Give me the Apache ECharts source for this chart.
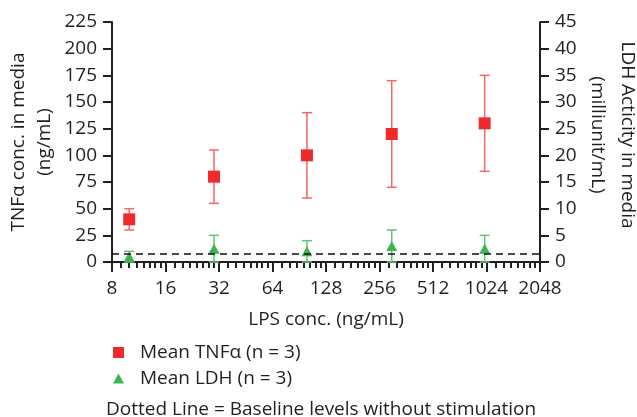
<!DOCTYPE html>
<html><head><meta charset="utf-8">
<script src="https://cdn.jsdelivr.net/npm/echarts@6/dist/echarts.min.js"></script>
<style>html,body{margin:0;padding:0;background:#fff}#c{width:637px;height:417px}</style>
</head><body><div id="c"></div>
<script>
// ---- data ----
const lpsConc = [10, 30, 100, 300, 1000];          // ng/mL
const tnfMean = [40, 80, 100, 120, 130];           // ng/mL (left axis)
const tnfSD   = [10, 25, 40, 50, 45];
const ldhMean = [1, 2.5, 2, 3, 2.5];               // milliunit/mL (right axis)
const ldhSD   = [1, 2.5, 2, 3, 2.5];
const baselineTNF = 8;                              // dotted baseline (left axis units)
const xMajorTicks = [8, 16, 32, 64, 128, 256, 512, 1024, 2048];

const xMinorTicks = [];
for (let i = 0; i < xMajorTicks.length - 1; i++) {
  for (let k = 1; k < 8; k++) xMinorTicks.push(xMajorTicks[i] * (1 + k / 8));
}

const FONT = 'Open Sans';
const TXT = '#231f20';
const AX = '#231f20';
const RED = '#ee2a2a', RED_ERR = '#f26666';
const GREEN = '#3cb454', GREEN_ERR = '#62c275';

const tnfPts = lpsConc.map((x, i) => [x, tnfMean[i]]);
const ldhPts = lpsConc.map((x, i) => [x, ldhMean[i]]);
const tnfErr = lpsConc.map((x, i) => [x, tnfMean[i] - tnfSD[i], tnfMean[i] + tnfSD[i]]);
const ldhErr = lpsConc.map((x, i) => [x, ldhMean[i] - ldhSD[i], ldhMean[i] + ldhSD[i]]);

function errRender(params, api) {
  const x = api.value(0), lo = api.value(1), hi = api.value(2);
  const pLo = api.coord([x, lo]), pHi = api.coord([x, hi]);
  const w = 5;
  const style = { stroke: api.visual('color'), lineWidth: 1.5, fill: null };
  return { type: 'group', children: [
    { type: 'line', shape: { x1: pLo[0], y1: pLo[1], x2: pHi[0], y2: pHi[1] }, style },
    { type: 'line', shape: { x1: pHi[0] - w, y1: pHi[1], x2: pHi[0] + w, y2: pHi[1] }, style },
    { type: 'line', shape: { x1: pLo[0] - w, y1: pLo[1], x2: pLo[0] + w, y2: pLo[1] }, style }
  ]};
}

const FS = 19;
const axisLabelStyle = { fontFamily: FONT, fontSize: FS, color: TXT };
const nameStyle = { fontFamily: FONT, fontSize: FS, color: TXT, lineHeight: 26 };

const chart = echarts.init(document.getElementById('c'), null, { renderer: 'canvas' });
chart.setOption({
  animation: false,
  backgroundColor: '#fff',
  textStyle: { fontFamily: FONT },
  grid: { left: 112, right: 97, top: 22, bottom: 155, containLabel: false, outerBoundsMode: 'none' },
  title: {
    text: 'Dotted Line = Baseline levels without stimulation',
    left: 106, top: 400, padding: 0,
    textStyle: { fontFamily: FONT, fontSize: FS, fontWeight: 'normal', color: TXT }
  },
  legend: [
    { data: [{ name: 'Mean TNFα (n = 3)', icon: 'rect' }], left: 113, top: 343, padding: 0,
      itemWidth: 11, itemHeight: 11, selectedMode: false,
      textStyle: { fontFamily: FONT, fontSize: FS, color: TXT, padding: [0, 0, 0, 11] } },
    { data: [{ name: 'Mean LDH (n = 3)', icon: 'triangle' }], left: 113, top: 369, padding: 0,
      itemWidth: 11, itemHeight: 10, selectedMode: false,
      textStyle: { fontFamily: FONT, fontSize: FS, color: TXT, padding: [0, 0, 0, 11] } }
  ],
  xAxis: [
    {
      type: 'log', logBase: 2, min: xMajorTicks[0], max: xMajorTicks[xMajorTicks.length - 1],
      name: 'LPS conc. (ng/mL)', nameLocation: 'middle', nameGap: 45, nameMoveOverlap: false,
      nameTextStyle: nameStyle,
      axisLine: { show: true, lineStyle: { color: AX, width: 2 } },
      axisTick: { show: true, length: 6, lineStyle: { color: AX, width: 2 },
                  customValues: xMajorTicks.concat(xMinorTicks) },
      axisLabel: Object.assign({ margin: 17, customValues: xMajorTicks,
                                 formatter: v => String(Math.round(v)) }, axisLabelStyle),
      splitLine: { show: false }, minorTick: { show: false }
    },
    {
      type: 'log', logBase: 2, min: xMajorTicks[0], max: xMajorTicks[xMajorTicks.length - 1],
      position: 'bottom', show: true,
      axisLine: { show: true, lineStyle: { color: AX, width: 2 } },
      axisTick: { show: true, length: 10, lineStyle: { color: AX, width: 2 }, customValues: xMajorTicks },
      axisLabel: { show: false },
      splitLine: { show: false }
    }
  ],
  yAxis: [
    {
      type: 'value', min: 0, max: 225, interval: 25, position: 'left',
      name: 'TNFα conc. in media\n(ng/mL)', nameLocation: 'middle', nameRotate: 90, nameGap: 54,
      nameMoveOverlap: false,
      nameTextStyle: nameStyle,
      axisLine: { show: true, lineStyle: { color: AX, width: 2 } },
      axisTick: { show: true, length: 9, lineStyle: { color: AX, width: 2 } },
      axisLabel: Object.assign({ margin: 15 }, axisLabelStyle),
      splitLine: { show: false }
    },
    {
      type: 'value', min: 0, max: 45, interval: 5, position: 'right',
      name: 'LDH Acticity in media\n(milliunit/mL)', nameLocation: 'middle', nameRotate: -90, nameGap: 42,
      nameMoveOverlap: false,
      nameTextStyle: Object.assign({}, nameStyle, { lineHeight: 30, padding: [0, 14, 0, 0] }),
      axisLine: { show: true, lineStyle: { color: AX, width: 2 } },
      axisTick: { show: true, length: 9, lineStyle: { color: AX, width: 2 } },
      axisLabel: Object.assign({ margin: 15 }, axisLabelStyle),
      splitLine: { show: false }
    }
  ],
  series: [
    {
      type: 'custom', name: 'tnfErr', xAxisIndex: 0, yAxisIndex: 0, z: 3,
      renderItem: errRender, itemStyle: { color: RED_ERR }, data: tnfErr, clip: false,
      encode: { x: 0, y: [1, 2] }
    },
    {
      type: 'custom', name: 'ldhErr', xAxisIndex: 0, yAxisIndex: 1, z: 3,
      renderItem: errRender, itemStyle: { color: GREEN_ERR }, data: ldhErr, clip: false,
      encode: { x: 0, y: [1, 2] }
    },
    {
      type: 'scatter', name: 'Mean TNFα (n = 3)', xAxisIndex: 0, yAxisIndex: 0, z: 4,
      symbol: 'rect', symbolSize: 12, itemStyle: { color: RED, opacity: 1 }, data: tnfPts,
      markLine: {
        silent: true, symbol: 'none', label: { show: false }, animation: false,
        lineStyle: { color: '#111', width: 1.5, type: [7, 5] },
        data: [{ yAxis: baselineTNF }]
      }
    },
    {
      type: 'scatter', name: 'Mean LDH (n = 3)', xAxisIndex: 0, yAxisIndex: 1, z: 4,
      symbol: 'triangle', symbolSize: [11, 10], itemStyle: { color: GREEN, opacity: 1 }, data: ldhPts
    }
  ]
});
</script></body></html>
